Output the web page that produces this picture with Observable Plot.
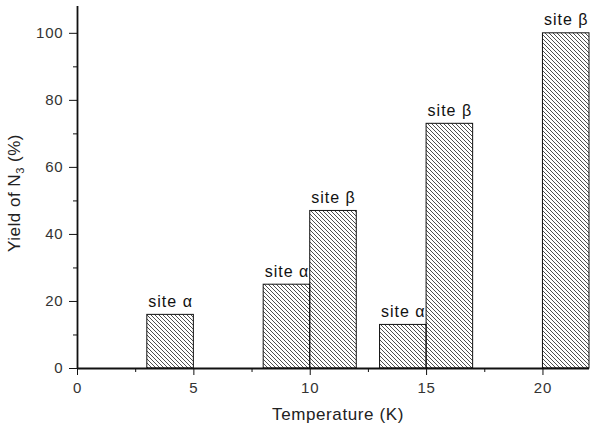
<!DOCTYPE html>
<html><head><meta charset="utf-8">
<script src="https://cdn.jsdelivr.net/npm/d3@7"></script>
<script src="https://cdn.jsdelivr.net/npm/@observablehq/plot@0.6"></script>
<style>
body{margin:0;background:#fff}
svg{font-family:"Liberation Sans",Arial,sans-serif}
g[aria-label="x-axis tick label"] text, g[aria-label="y-axis tick label"] text { font-size:15px !important; letter-spacing:0.8px; }
g[aria-label="text"] text { font-size:16px !important; letter-spacing:1px; }
</style>
</head><body><div id="chart"></div>
<script>
const sites  = ["site α","site α","site β","site α","site β","site β"];
const xStart = [3, 8, 10, 13, 15, 20];
const xEnd   = [5, 10, 12, 15, 17, 22];
const yields = [16, 25, 47, 13, 73, 100];
const xMajor = [0, 5, 10, 15, 20];
const xMinor = [2.5, 7.5, 12.5, 17.5];
const yMajor = [0, 20, 40, 60, 80, 100];
const yMinor = [10, 30, 50, 70, 90];

const data = sites.map((s, i) => ({site: s, x1: xStart[i], x2: xEnd[i], y: yields[i]}));

const chart = Plot.plot({
  width: 600, height: 428,
  marginLeft: 77, marginRight: 11, marginTop: 6, marginBottom: 60,
  x: {domain: [0, 22]},
  y: {domain: [0, 108]},
  style: {fontFamily: '"Liberation Sans", Arial, sans-serif', background: "#fff", fontSize: "15px"},
  marks: [
    Plot.rectY(data, {x1: "x1", x2: "x2", y1: 0, y2: "y", fill: "url(#hatch)", stroke: "#111", strokeWidth: 1}),
    Plot.text(data, {x: d => (d.x1 + d.x2) / 2, y: "y", text: "site", dy: -13, fill: "#111"}),
    Plot.axisX({ticks: xMajor, tickSize: 7, tickPadding: 7, color: "#333", stroke: "#111", label: null}),
    Plot.axisX({ticks: xMinor, tickSize: 4, text: null, label: null, stroke: "#111"}),
    Plot.axisY({ticks: yMajor, tickSize: 8, tickPadding: 6, color: "#333", stroke: "#111", label: null}),
    Plot.axisY({ticks: yMinor, tickSize: 4, text: null, label: null, stroke: "#111"}),
    Plot.ruleY([0], {stroke: "#111", strokeWidth: 1.8}),
    Plot.ruleX([0], {stroke: "#111", strokeWidth: 1.8})
  ]
});

const svg = d3.select(chart);
svg.insert("defs", ":first-child").html(
  '<pattern id="hatch" patternUnits="userSpaceOnUse" width="4" height="4">' +
  '<path d="M-1,-1 L5,5 M3,-1 L5,1 M-1,3 L1,5" stroke="#222" stroke-width="0.8"/></pattern>'
);

// x-axis title
svg.append("text")
  .attr("x", 338).attr("y", 420)
  .attr("text-anchor", "middle")
  .attr("font-size", 17).style("letter-spacing", "0.6px")
  .attr("fill", "#222")
  .text("Temperature (K)");

// y-axis title with subscript
const yl = svg.append("text")
  .attr("transform", "translate(20,193) rotate(-90)")
  .attr("text-anchor", "middle")
  .attr("font-size", 17).style("letter-spacing", "0.5px")
  .attr("fill", "#222");
yl.append("tspan").text("Yield of N");
yl.append("tspan").attr("font-size", 11).attr("dy", 4).text("3");
yl.append("tspan").attr("dy", -4).text(" (%)");

document.getElementById("chart").append(chart);
</script>
</body></html>
